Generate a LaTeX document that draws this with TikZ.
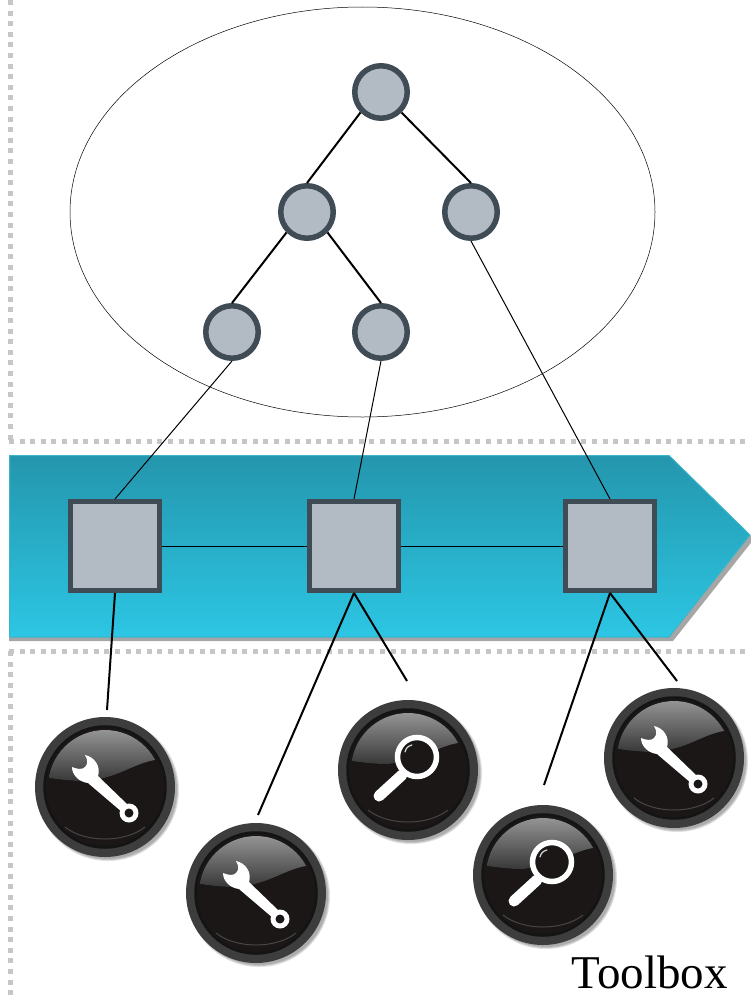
\documentclass[tikz,border=0pt]{standalone}
\usepackage{fontspec}
\setmainfont{Liberation Serif}
\usepackage{xcolor}
\definecolor{Col1}{RGB}{63,76,86}
\definecolor{Col2}{RGB}{178,186,195}
\definecolor{Col3}{RGB}{198,198,198}
\definecolor{Col4}{RGB}{26,23,22}
\definecolor{Col5}{RGB}{36,150,173}
\definecolor{Col6}{RGB}{44,198,228}
\definecolor{Col7}{RGB}{62,180,200}
\usepackage{tikz}
\usetikzlibrary{shapes}
\tikzstyle{NodeC}=[circle,draw=Col1,fill=Col2,line width=5.5pt,inner sep=0pt,minimum size=52.5pt]
\tikzstyle{NodeS}=[rectangle,draw=Col1,fill=Col2,line width=5pt,inner sep=0pt,minimum size=89pt]
\tikzstyle{NodeT}=[circle,draw=black!76,fill=Col4,line width=10pt,inner sep=0pt,minimum size=130pt]
\tikzstyle{EdgeA}=[draw=black,line width=2pt]
\tikzstyle{EdgeB}=[draw=black,line width=1pt]
\tikzstyle{Border}=[draw=Col3,line width=5pt,dash pattern=on 5pt off 5.6pt]
\tikzset{
  knob/.pic={
    \draw[black!92,line width=2.5pt] (0,0) circle (60.5);
    \begin{scope}
      \clip (0,0) circle (57);
      \fill[top color=black!33,bottom color=black!78]
        (-62,-70) -- (62,-70) -- (62,-28) .. controls (30,-28) and (18,-8) .. (-22,-6)
        .. controls (-35,-6) and (-50,-8) .. (-62,-10) -- cycle;
    \end{scope}
    \draw[black!72,line width=1pt] (-40,40) .. controls (-20,56) and (20,56) .. (40,40);
  },
  wrench/.pic={
    \fill[white] (-33,-20) .. controls (-33,-12) and (-26,-5) .. (-17,-4) -- (17,25) -- (23,18) -- (-7,-11)
      .. controls (-4,-20) and (-10,-30) .. (-20,-32)
      .. controls (-17,-27) and (-17,-23) .. (-20,-20)
      .. controls (-23,-17) and (-28,-18) .. (-33,-20) -- cycle;
    \fill[white] (24,26) circle (9.5);
    \fill[Col4] (24,26) circle (4.5);
  },
  lens/.pic={
    \draw[white,line width=11pt,line cap=round] (-29,26) -- (-6,5);
    \draw[white,fill=Col4,line width=5.5pt] (9,-13) circle (19.5);
    \draw[white!85!black,line width=1.2pt,line cap=round] (-3,-18) .. controls (-2,-22) and (0,-24) .. (4,-25);
  }
}
\begin{document}
\begin{tikzpicture}[x=1pt,y=-1pt]
  \useasboundingbox(0,0)rectangle(750,998);
  \draw[Border](10,0)--(10,440);
  \draw[Border](10,651)--(10,996);
  \draw[Border](9,441)--(750,441);
  \draw[Border](9,651)--(750,651);
  \fill[black!35](9,455)--(673,459)--(754,539)--(673,641)--(9,641)--cycle;
  \path[top color=Col5,bottom color=Col6,draw=Col7,line width=1pt]
    (9.5,455.5)--(669,455.5)--(750,535)--(669,637)--(9.5,637)--cycle;
  \draw[black,line width=.5pt](362.5,212)ellipse(292.5 and 205);
  \node[NodeC](0)at(381,92){};
  \node[NodeC](1)at(307,212){};
  \node[NodeC](2)at(471,212){};
  \node[NodeC](3)at(232,332){};
  \node[NodeC](4)at(381,332){};
  \node[NodeS](5)at(115,546){};
  \node[NodeS](6)at(354,546){};
  \node[NodeS](7)at(610,546){};
  \draw[EdgeA](0.south west)--(1.north);
  \draw[EdgeA](0.south east)--(2.north);
  \draw[EdgeA](1.south west)--(3.north);
  \draw[EdgeA](1.south east)--(4.north);
  \draw[EdgeB](3.south)--(5.north);
  \draw[EdgeB](4.south)--(6.north);
  \draw[EdgeB](2.south)--(7.north);
  \draw[EdgeB](5)--(6);
  \draw[EdgeB](6)--(7);
  \foreach \i/\x/\y in {8/105/787,9/256/893,10/408/770,11/543/875,12/674/758}{
    \foreach \r in {71,70,69}
      \fill[black,opacity=.12](\x+3,\y+3)circle(\r);
    \node[NodeT](\i)at(\x,\y){};
    \pic at(\i){knob};
  }
  \pic at(8){wrench};
  \pic at(9){wrench};
  \pic at(10){lens};
  \pic at(11){lens};
  \pic at(12){wrench};
  \coordinate(a)at(107,710);
  \coordinate(b)at(258,815);
  \coordinate(c)at(407,681);
  \coordinate(d)at(544,785);
  \coordinate(e)at(677,681);
  \draw[EdgeA](5.south)--(a);
  \draw[EdgeA](6.south)--(b);
  \draw[EdgeA](6.south)--(c);
  \draw[EdgeA](7.south)--(d);
  \draw[EdgeA](7.south)--(e);
  \node[font=\fontsize{47}{47}\selectfont,anchor=base east,inner sep=0pt](13)at(728,988){Toolbox};
\end{tikzpicture}
\end{document}
